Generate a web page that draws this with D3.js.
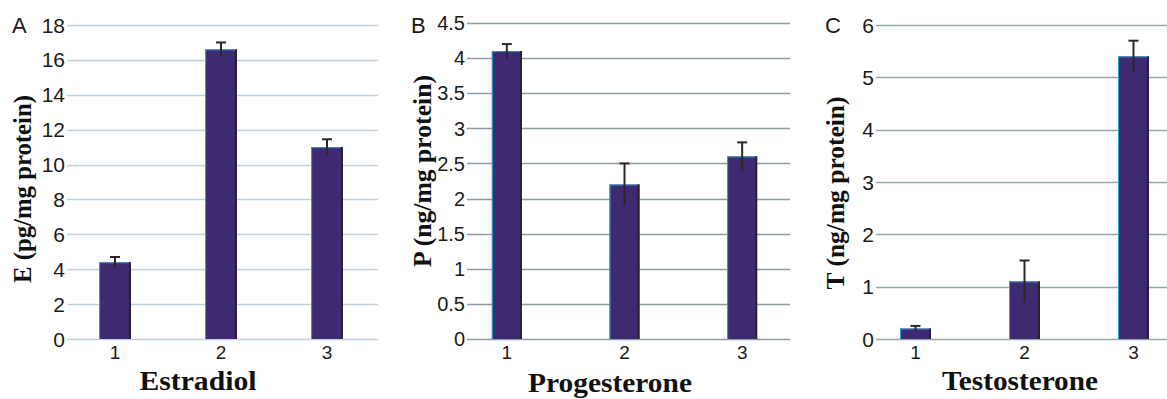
<!DOCTYPE html>
<html><head><meta charset="utf-8">
<script src="https://cdn.jsdelivr.net/npm/d3@7/dist/d3.min.js"></script>
<style>body{margin:0;background:#fff}svg{display:block}</style>
</head><body>
<svg id="chart" width="1167" height="399"></svg>
<script>
// ---- data ----
const categories = ["1", "2", "3"];
const estradiolValues = [4.4, 16.6, 11.0];
const estradiolErrors = [0.3, 0.4, 0.45];
const progesteroneValues = [4.1, 2.2, 2.6];
const progesteroneErrors = [0.1, 0.3, 0.2];
const testosteroneValues = [0.2, 1.1, 5.4];
const testosteroneErrors = [0.05, 0.4, 0.3];
const estradiolTicks = [0, 2, 4, 6, 8, 10, 12, 14, 16, 18];
const progesteroneTicks = [0, 0.5, 1, 1.5, 2, 2.5, 3, 3.5, 4, 4.5];
const testosteroneTicks = [0, 1, 2, 3, 4, 5, 6];
const panelLetters = ["A", "B", "C"];
const yTitles = ["E (pg/mg protein)", "P (ng/mg protein)", "T (ng/mg protein)"];
const xTitles = ["Estradiol", "Progesterone", "Testosterone"];

// ---- layout ----
const panels = [
  {values: estradiolValues, errors: estradiolErrors, ticks: estradiolTicks, max: 18,
   band: [62, 380], pad: 0.7, grid: [67, 378], y: [339, 25], grid_c: "#c3d1dc", tickSize: 21,
   letter: [12, 33], yT: {x: 22, y: 189, len: 188}, xT: {x: 198, y: 390, len: 117}},
  {values: progesteroneValues, errors: progesteroneErrors, ticks: progesteroneTicks, max: 4.5,
   band: [448, 801], pad: 0.745, grid: [467, 790], y: [339, 23], grid_c: "#8f9ca1", tickSize: 20,
   letter: [411, 33], yT: {x: 422, y: 171, len: 192}, xT: {x: 610, y: 392, len: 164}},
  {values: testosteroneValues, errors: testosteroneErrors, ticks: testosteroneTicks, max: 6,
   band: [861, 1188], pad: 0.716, grid: [876, 1167], y: [339, 25], grid_c: "#98a6ac", tickSize: 21,
   letter: [825, 33], yT: {x: 835, y: 193, len: 193}, xT: {x: 1020, y: 390, len: 156}}
];

const svg = d3.select("#chart");
const barFill = "#3e2a71";

panels.forEach((p, i) => {
  const x = d3.scaleBand().domain(categories).range(p.band)
    .paddingInner(p.pad).paddingOuter(p.pad / 2);
  const y = d3.scaleLinear().domain([0, p.max]).range(p.y);
  const g = svg.append("g");

  // gridlines
  g.selectAll("line.grid").data(p.ticks).join("line")
    .attr("x1", p.grid[0]).attr("x2", p.grid[1])
    .attr("y1", d => Math.round(y(d)) + 0.5).attr("y2", d => Math.round(y(d)) + 0.5)
    .attr("stroke", p.grid_c).attr("stroke-width", 1.3);

  // y tick labels
  g.selectAll("text.yt").data(p.ticks).join("text")
    .attr("x", p.grid[0] - 2).attr("y", d => y(d))
    .attr("dy", "0.36em").attr("text-anchor", "end")
    .attr("font-family", "Liberation Sans, Arial, sans-serif")
    .attr("font-size", p.tickSize).attr("fill", "#1a1a1a")
    .text(d => d);

  // bars
  const bars = g.selectAll("g.bar").data(categories).join("g");
  bars.append("rect")
    .attr("x", d => x(d)).attr("width", x.bandwidth())
    .attr("y", (d, j) => y(p.values[j]))
    .attr("height", (d, j) => y(0) - y(p.values[j]))
    .attr("fill", barFill);
  bars.append("line")
    .attr("x1", d => x(d) + 0.5).attr("x2", d => x(d) + 0.5)
    .attr("y1", (d, j) => y(p.values[j])).attr("y2", y(0))
    .attr("stroke", "#2ca6dc").attr("stroke-width", 1);
  bars.append("line")
    .attr("x1", d => x(d)).attr("x2", d => x(d) + x.bandwidth())
    .attr("y1", (d, j) => y(p.values[j]) + 0.5).attr("y2", (d, j) => y(p.values[j]) + 0.5)
    .attr("stroke", "#3a8fc8").attr("stroke-width", 1);
  bars.append("line")
    .attr("x1", d => x(d) + x.bandwidth() - 1).attr("x2", d => x(d) + x.bandwidth() - 1)
    .attr("y1", (d, j) => y(p.values[j])).attr("y2", y(0))
    .attr("stroke", "#2b2222").attr("stroke-width", 2);

  // error bars
  const cx = d => x(d) + x.bandwidth() / 2;
  bars.append("line")
    .attr("x1", cx).attr("x2", cx)
    .attr("y1", (d, j) => y(p.values[j] + p.errors[j]))
    .attr("y2", (d, j) => y(p.values[j] - p.errors[j]))
    .attr("stroke", "#2e2622").attr("stroke-width", 2);
  bars.append("line")
    .attr("x1", d => cx(d) - 5).attr("x2", d => cx(d) + 5)
    .attr("y1", (d, j) => y(p.values[j] + p.errors[j]))
    .attr("y2", (d, j) => y(p.values[j] + p.errors[j]))
    .attr("stroke", "#2e2622").attr("stroke-width", 2);

  // x tick labels
  g.selectAll("text.xt").data(categories).join("text")
    .attr("x", d => x(d) + x.bandwidth() / 2).attr("y", 359)
    .attr("text-anchor", "middle")
    .attr("font-family", "Liberation Sans, Arial, sans-serif")
    .attr("font-size", 19).attr("fill", "#1a1a1a")
    .text(d => d);

  // panel letter
  g.append("text").attr("x", p.letter[0]).attr("y", p.letter[1])
    .attr("font-family", "Liberation Sans, Arial, sans-serif")
    .attr("font-size", 22).attr("fill", "#1a1a1a").text(panelLetters[i]);

  // y title
  g.append("text")
    .attr("transform", `translate(${p.yT.x},${p.yT.y}) rotate(-90)`)
    .attr("text-anchor", "middle").attr("dy", "0.35em")
    .attr("font-family", "Liberation Serif, Times New Roman, serif")
    .attr("font-weight", "bold").attr("font-size", 25).attr("fill", "#111")
    .attr("textLength", p.yT.len).attr("lengthAdjust", "spacingAndGlyphs")
    .text(yTitles[i]);

  // x title
  g.append("text")
    .attr("x", p.xT.x).attr("y", p.xT.y)
    .attr("text-anchor", "middle")
    .attr("font-family", "Liberation Serif, Times New Roman, serif")
    .attr("font-weight", "bold").attr("font-size", 28).attr("fill", "#111")
    .attr("textLength", p.xT.len).attr("lengthAdjust", "spacingAndGlyphs")
    .text(xTitles[i]);
});
</script>
</body></html>
